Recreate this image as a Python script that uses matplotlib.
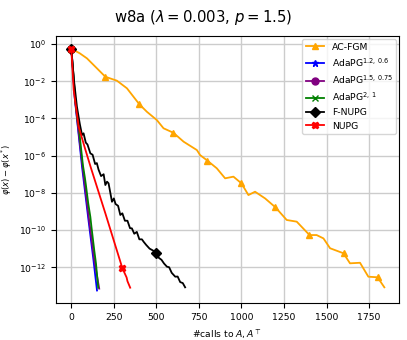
import numpy as np
import matplotlib
matplotlib.use('Agg')
from matplotlib import pyplot as plt

# values; y values are log10 of phi(x) - phi(x*)
acfgm_x = [0, 50, 92, 151, 200, 268, 327, 400, 444, 503, 542, 600, 660, 738, 757,
           800, 855, 904, 953, 1000, 1041, 1080, 1139, 1200, 1266, 1325, 1400, 1442,
           1482, 1521, 1600, 1638, 1697, 1746, 1800, 1840]
acfgm_log = [-0.25, -0.50, -0.77, -1.31, -1.76, -1.97, -2.38, -3.24, -3.64, -4.09, -4.53,
             -4.77, -5.25, -5.70, -5.97, -6.27, -6.68, -7.22, -7.13, -7.49, -8.12, -7.94,
             -8.30, -8.78, -9.46, -9.55, -10.27, -10.27, -10.45, -10.98, -11.25, -11.79,
             -11.76, -12.51, -12.54, -13.08]

ada1_x = [0, 10, 20, 33, 63, 100, 130, 151]
ada1_log = [-0.25, -1.5, -2.9, -4.0, -6.6, -9.4, -11.6, -13.25]

ada2_x = [0, 10, 22, 35, 65, 105, 135, 164]
ada2_log = [-0.25, -1.4, -3.0, -4.1, -6.5, -9.5, -11.6, -13.15]

ada3_x = [0, 12, 24, 38, 45, 50, 68, 80, 86, 100, 112, 118, 135, 145, 158]
ada3_log = [-0.25, -1.6, -3.1, -4.2, -4.5, -5.0, -6.5, -7.2, -7.6, -8.6, -9.3, -9.8,
            -11.1, -11.8, -13.1]

fnupg_x = [0, 15, 33, 50, 63, 72, 85, 95, 112, 125, 140, 150, 160, 175, 190, 200, 210,
           219, 239, 250, 260, 275, 288, 300, 315, 330, 345, 356, 370, 385, 400, 415,
           425, 440, 460, 480, 500, 515, 530, 545, 562, 575, 590, 611, 625, 640, 655, 669]
fnupg_log = [-0.25, -1.9, -3.37, -4.3, -4.89, -4.80, -5.3, -5.4, -5.88, -5.95, -6.45,
             -6.40, -6.75, -7.1, -7.0, -7.58, -7.4, -7.49, -8.48, -8.3, -8.6, -8.7, -9.19,
             -9.1, -9.5, -9.5, -9.9, -9.91, -10.2, -10.1, -10.5, -10.5, -10.63, -10.8,
             -11.0, -11.1, -11.25, -11.5, -11.6, -11.8, -11.97, -12.0, -12.3, -12.51,
             -12.5, -12.8, -12.85, -13.08]

nupg_x = [0, 14, 43, 80, 116, 200, 300, 325, 330, 346]
nupg_log = [-0.25, -2.47, -4.44, -5.6, -6.68, -9.1, -12.05, -12.55, -12.75, -13.1]

series = [
    ('AC-FGM', acfgm_x, acfgm_log, 'orange', '^', 200),
    (r'AdaPG$^{1.2,\,0.6}$', ada1_x, ada1_log, 'blue', '*', 200),
    (r'AdaPG$^{1.5,\,0.75}$', ada2_x, ada2_log, 'purple', 'o', 200),
    (r'AdaPG$^{2,\,1}$', ada3_x, ada3_log, 'green', 'x', 200),
    ('F-NUPG', fnupg_x, fnupg_log, 'black', 'D', 500),
    ('NUPG', nupg_x, nupg_log, 'red', 'X', 300),
]

fig = plt.figure(figsize=(4.07, 3.40), dpi=100)
ax = fig.add_axes([0.1376, 0.109, 0.8427, 0.785])

for label, xs, logs, color, marker, step in series:
    xs = np.array(xs)
    ys = np.power(10.0, np.array(logs))
    marks = list(np.where(xs % step == 0)[0])
    ax.plot(xs, ys, color=color, marker=marker, markevery=marks, markersize=5,
            linewidth=1.3, label=label)

ax.set_yscale('log')
ax.set_ylim(10 ** -13.92, 10 ** 0.43)
ax.set_xlim(-90, 1926)
ax.set_yticks([10.0 ** k for k in range(0, -13, -2)])
ax.minorticks_off()
ax.grid(True, color='#cccccc', linewidth=1.0)
ax.tick_params(labelsize=6.7)
ax.set_xlabel(r'#calls to $A, A^\top$', fontsize=6.7)
ax.set_ylabel(r'$\varphi(x)-\varphi(x^*)$', fontsize=6)
fig.suptitle(r'w8a ($\lambda = 0.003$, $p = 1.5$)', fontsize=10.7, y=0.977)
ax.legend(loc='upper right', fontsize=6.7, borderaxespad=0.3)

fig.savefig('out.png', dpi=100)
